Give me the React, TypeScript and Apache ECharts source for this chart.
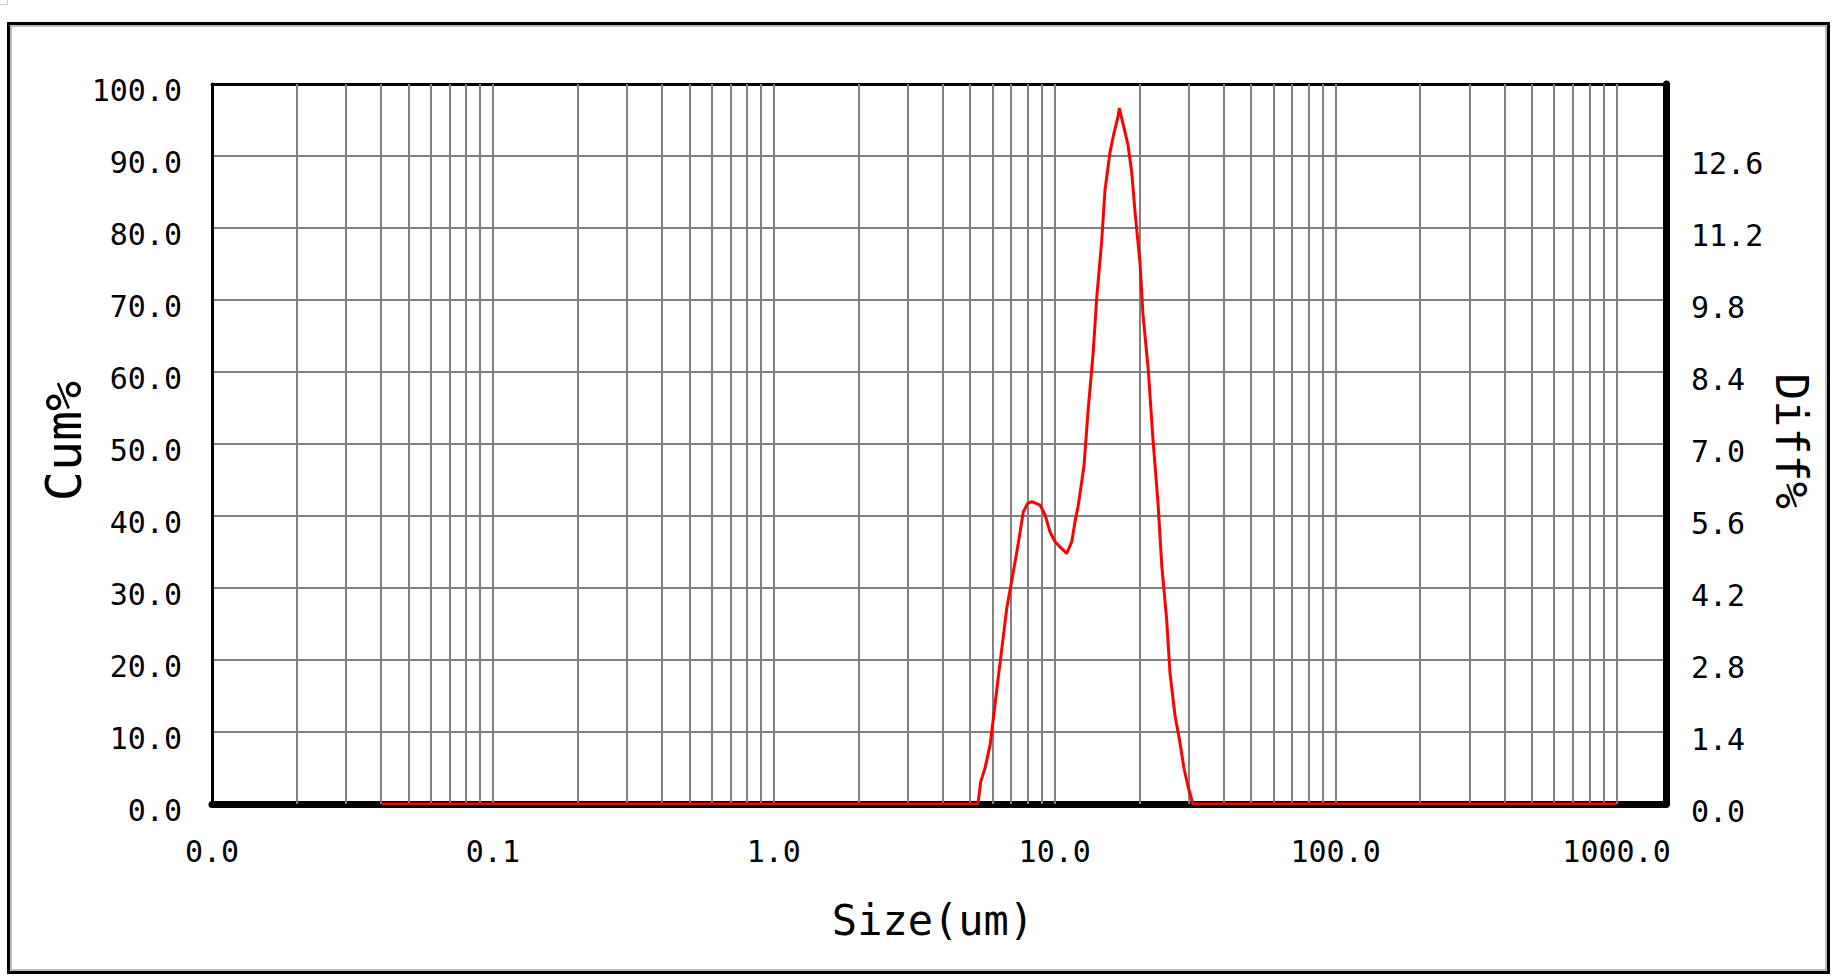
import React, { useEffect, useRef } from 'react';
import * as echarts from 'echarts';

// Particle size (um) and differential distribution (Diff%)
const sizes = [
  0.04, 5.33, 5.45, 5.65, 5.89, 6.08, 6.3, 6.53, 6.75, 7.1, 7.42, 7.73, 8.0, 8.28, 8.87,
  9.24, 9.62, 10.03, 10.44, 11.03, 11.5, 11.81, 12.13, 12.71, 13.15, 13.7, 14.11, 14.69,
  15.1, 15.74, 16.26, 16.8, 16.98, 17.32, 18.24, 18.79, 19.31, 20.12, 20.62, 21.53, 22.38,
  23.32, 24.04, 25.04, 25.72, 26.79, 27.92, 28.84, 29.82, 31.06, 1000,
];
const diffPct = [
  0, 0, 0.43, 0.7, 1.15, 1.77, 2.48, 3.16, 3.81, 4.47, 5.07, 5.68, 5.84, 5.88, 5.81,
  5.62, 5.29, 5.1, 5.0, 4.87, 5.1, 5.49, 5.81, 6.57, 7.66, 8.76, 9.84, 10.93,
  11.94, 12.68, 13.05, 13.36, 13.53, 13.33, 12.81, 12.29, 11.52, 10.52, 9.51, 8.44, 7.08,
  5.85, 4.65, 3.58, 2.55, 1.73, 1.19, 0.7, 0.34, 0, 0,
];

// Axes
const xMin = 0.01;
const xMax = 1500;
const cumMin = 0;
const cumMax = 100;
const cumStep = 10;
const diffMin = 0;
const diffMax = 14;
const diffStep = 1.4;

// Log grid: decades and multipliers for the vertical grid lines
const gridDecades = [0.01, 0.1, 1, 10, 100];
const gridMultipliers = [1, 2, 3, 4, 5, 6, 7, 8, 9];
const gridExtra = [1000];

const MONO = "'DejaVu Sans Mono', 'Liberation Mono', monospace";

export default function App() {
  const ref = useRef<HTMLDivElement>(null);

  useEffect(() => {
    if (!ref.current) return;
    const chart = echarts.init(ref.current, undefined, { renderer: 'svg' });

    const verticalGrid: number[] = [];
    gridDecades.forEach((d) => {
      gridMultipliers.forEach((m) => {
        const v = Number((d * m).toPrecision(6));
        if (v > xMin) verticalGrid.push(v);
      });
    });
    gridExtra.forEach((v) => verticalGrid.push(v));

    const fmt1 = (v: number) => Number(v).toFixed(1);

    chart.setOption({
      animation: false,
      backgroundColor: '#ffffff',
      grid: { left: 212, right: 179, top: 84, bottom: 174, containLabel: false },
      xAxis: [
        {
          type: 'log',
          logBase: 10,
          min: xMin,
          max: xMax,
          position: 'bottom',
          axisLine: { show: true, onZero: false, lineStyle: { color: '#000000', width: 7 } },
          axisTick: { show: false },
          splitLine: { show: false },
          axisLabel: {
            formatter: fmt1,
            fontFamily: MONO,
            fontSize: 30,
            color: '#000000',
            margin: 32,
            showMaxLabel: false,
            showMinLabel: true,
          },
        },
        {
          type: 'log',
          logBase: 10,
          min: xMin,
          max: xMax,
          position: 'top',
          axisLine: { show: true, onZero: false, lineStyle: { color: '#000000', width: 3 } },
          axisTick: { show: false },
          axisLabel: { show: false },
          splitLine: { show: false },
        },
      ],
      yAxis: [
        {
          type: 'value',
          min: cumMin,
          max: cumMax,
          interval: cumStep,
          position: 'left',
          axisLine: { show: true, onZero: false, lineStyle: { color: '#000000', width: 3 } },
          axisTick: { show: false },
          splitLine: { show: true, lineStyle: { color: '#808080', width: 2 } },
          axisLabel: {
            formatter: fmt1,
            fontFamily: MONO,
            fontSize: 30,
            color: '#000000',
            margin: 30,
            verticalAlign: 'top',
            lineHeight: 12,
          },
        },
        {
          type: 'value',
          min: diffMin,
          max: diffMax,
          interval: diffStep,
          position: 'right',
          axisLine: { show: true, onZero: false, lineStyle: { color: '#000000', width: 7 } },
          axisTick: { show: false },
          splitLine: { show: false },
          axisLabel: {
            formatter: fmt1,
            fontFamily: MONO,
            fontSize: 30,
            color: '#000000',
            margin: 25,
            verticalAlign: 'top',
            lineHeight: 14,
            showMaxLabel: false,
          },
        },
      ],
      series: [
        {
          name: 'Diff%',
          type: 'line',
          xAxisIndex: 0,
          yAxisIndex: 1,
          data: sizes.map((s, i) => [s, diffPct[i]]),
          showSymbol: false,
          symbol: 'none',
          silent: true,
          z: 3,
          lineStyle: { color: '#ff0000', width: 3 },
          markLine: {
            silent: true,
            z: 1,
            symbol: ['none', 'none'],
            label: { show: false },
            lineStyle: { color: '#808080', width: 2, type: 'solid' },
            emphasis: { disabled: true },
            data: verticalGrid.map((v) => ({ xAxis: v })),
          },
        },
      ],
      graphic: [
        {
          type: 'rect',
          silent: true,
          shape: { x: 8.5, y: 23.5, width: 1820, height: 949 },
          style: { fill: 'none', stroke: '#000000', lineWidth: 3 },
        },
        {
          type: 'rect',
          silent: true,
          shape: { x: 11, y: 26, width: 1815, height: 944 },
          style: { fill: 'none', stroke: '#a8a8a8', lineWidth: 1.5 },
        },
        {
          type: 'polyline',
          silent: true,
          shape: { points: [[0, 4.5], [7.5, 4.5], [7.5, 0]] },
          style: { fill: 'none', stroke: '#c8c8c8', lineWidth: 1 },
        },
        {
          type: 'text',
          silent: true,
          x: 933,
          y: 920,
          style: {
            text: 'Size(um)',
            fontFamily: MONO,
            fontSize: 42,
            fill: '#000000',
            align: 'center',
            verticalAlign: 'middle',
          },
        },
        {
          type: 'text',
          silent: true,
          x: 64,
          y: 441,
          rotation: Math.PI / 2,
          style: {
            text: 'Cum%',
            fontFamily: MONO,
            fontSize: 50,
            fill: '#000000',
            align: 'center',
            verticalAlign: 'middle',
          },
        },
        {
          type: 'text',
          silent: true,
          x: 1791,
          y: 441,
          rotation: -Math.PI / 2,
          style: {
            text: 'Diff%',
            fontFamily: MONO,
            fontSize: 45,
            fill: '#000000',
            align: 'center',
            verticalAlign: 'middle',
          },
        },
      ],
    });

    return () => {
      chart.dispose();
    };
  }, []);

  return (
    <div
      ref={ref}
      style={{ position: 'fixed', left: 0, top: 0, width: 1845, height: 978 }}
    />
  );
}
